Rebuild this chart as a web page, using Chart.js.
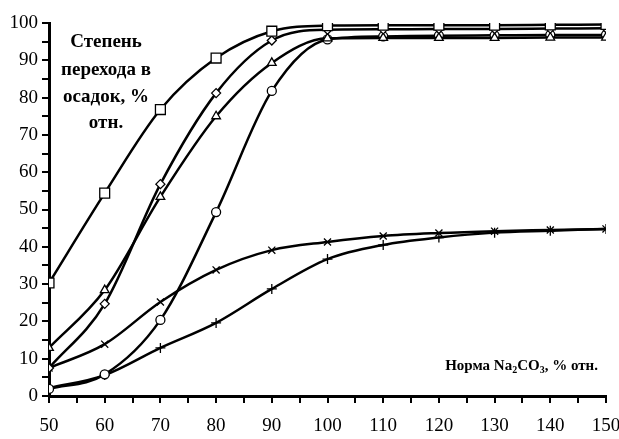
<!DOCTYPE html>
<html>
<head>
<meta charset="utf-8">
<script src="https://cdn.jsdelivr.net/npm/chart.js@4"></script>
<style>
  body { margin: 0; background: #fff; }
  canvas { display: block; }
</style>
</head>
<body>
<canvas id="myChart" width="619" height="439"></canvas>
<script>
'use strict';

// Норма Na2CO3, % отн.
let norma = [50, 60, 70, 80, 90, 100, 110, 120, 130, 140, 150];

// Степень перехода в осадок, % отн.
let squareSeries = [30.3, 54.4, 76.8, 90.6, 97.8, 99.3, 99.4, 99.4, 99.4, 99.5, 99.6];
let diamondSeries = [7.5, 24.7, 56.8, 81.2, 95.3, 98.2, 98.3, 98.4, 98.4, 98.5, 98.6];
let triangleSeries = [12.9, 28.4, 53.4, 75.0, 89.3, 95.9, 96.0, 96.0, 96.0, 96.1, 96.1];
let circleSeries = [1.9, 5.8, 20.4, 49.3, 81.8, 95.6, 96.4, 96.6, 96.7, 96.8, 96.8];
let crossSeries = [7.5, 13.9, 25.2, 33.8, 39.1, 41.3, 42.9, 43.7, 44.2, 44.5, 44.8];
let plusSeries = [2.1, 5.6, 12.9, 19.6, 28.7, 36.7, 40.5, 42.5, 43.8, 44.3, 44.8];

let yTitleLines = ['Степень', 'перехода в', 'осадок, %', 'отн.'];
let serif = '"Liberation Serif", "Times New Roman", serif';

function toPoints(values) {
  let points = [];
  for (let i = 0; i < norma.length; i++) {
    points.push({ x: norma[i], y: values[i] });
  }
  return points;
}

function makeDataset(label, values, style, radius) {
  return {
    label: label,
    data: toPoints(values),
    borderColor: '#000',
    borderWidth: 2.5,
    backgroundColor: '#fff',
    pointStyle: style,
    pointRadius: radius,
    pointBorderWidth: 1.3,
    pointBorderColor: '#000',
    pointBackgroundColor: '#fff',
    cubicInterpolationMode: 'monotone',
    fill: false
  };
}

// подписи внутри графика
let textPlugin = {
  id: 'textPlugin',
  afterDraw(chart) {
    let ctx = chart.ctx;
    ctx.save();
    ctx.fillStyle = '#000';
    ctx.textAlign = 'center';
    ctx.textBaseline = 'middle';
    ctx.font = 'bold 19px ' + serif;
    let lineY = [42, 70, 97, 123];
    for (let i = 0; i < yTitleLines.length; i++) {
      ctx.fillText(yTitleLines[i], 106, lineY[i]);
    }

    // Норма Na2CO3, % отн. с нижними индексами
    let parts = [
      { t: 'Норма Na', sub: false },
      { t: '2', sub: true },
      { t: 'CO', sub: false },
      { t: '3', sub: true },
      { t: ', % отн.', sub: false }
    ];
    let big = 'bold 15px ' + serif;
    let small = 'bold 10px ' + serif;
    let total = 0;
    for (let p of parts) {
      ctx.font = p.sub ? small : big;
      total += ctx.measureText(p.t).width;
    }
    let x = 598 - total;
    ctx.textAlign = 'left';
    ctx.textBaseline = 'alphabetic';
    for (let p of parts) {
      ctx.font = p.sub ? small : big;
      ctx.fillText(p.t, x, p.sub ? 373 : 370);
      x += ctx.measureText(p.t).width;
    }
    ctx.restore();
  }
};

let chartStuff = {
  type: 'line',
  data: {
    datasets: [
      makeDataset('square', squareSeries, 'rect', 7),
      makeDataset('diamond', diamondSeries, 'rectRot', 4.5),
      makeDataset('triangle', triangleSeries, 'triangle', 5),
      makeDataset('circle', circleSeries, 'circle', 4.5),
      makeDataset('cross', crossSeries, 'crossRot', 5),
      makeDataset('plus', plusSeries, 'cross', 5)
    ]
  },
  options: {
    responsive: false,
    animation: false,
    layout: {
      padding: { top: 23, right: 13, left: 0, bottom: 0 }
    },
    plugins: {
      legend: { display: false },
      tooltip: { enabled: false }
    },
    scales: {
      x: {
        type: 'linear',
        min: 50,
        max: 150,
        afterFit(scale) {
          scale.height = 43;
          scale.paddingLeft = 0;
          scale.paddingRight = 0;
        },
        ticks: {
          stepSize: 5,
          autoSkip: false,
          maxRotation: 0,
          color: '#000',
          padding: 12,
          font: { family: serif, size: 19 },
          callback: (v) => (v % 10 === 0 ? v : '')
        },
        grid: {
          drawOnChartArea: false,
          drawTicks: true,
          tickLength: 7,
          lineWidth: 2,
          tickColor: '#000'
        },
        border: { display: true, width: 3, color: '#000' }
      },
      y: {
        min: 0,
        max: 100,
        afterFit(scale) {
          scale.width = 49;
          scale.paddingTop = 0;
          scale.paddingBottom = 0;
        },
        ticks: {
          stepSize: 5,
          autoSkip: false,
          color: '#000',
          padding: 4,
          font: { family: serif, size: 19 },
          callback: (v) => (v % 10 === 0 ? v : '')
        },
        grid: {
          drawOnChartArea: false,
          drawTicks: true,
          tickLength: 7,
          lineWidth: 2,
          tickColor: '#000'
        },
        border: { display: true, width: 3, color: '#000' }
      }
    }
  },
  plugins: [textPlugin]
};

const ctx = document.getElementById('myChart').getContext('2d');
new Chart(ctx, chartStuff);
</script>
</body>
</html>
